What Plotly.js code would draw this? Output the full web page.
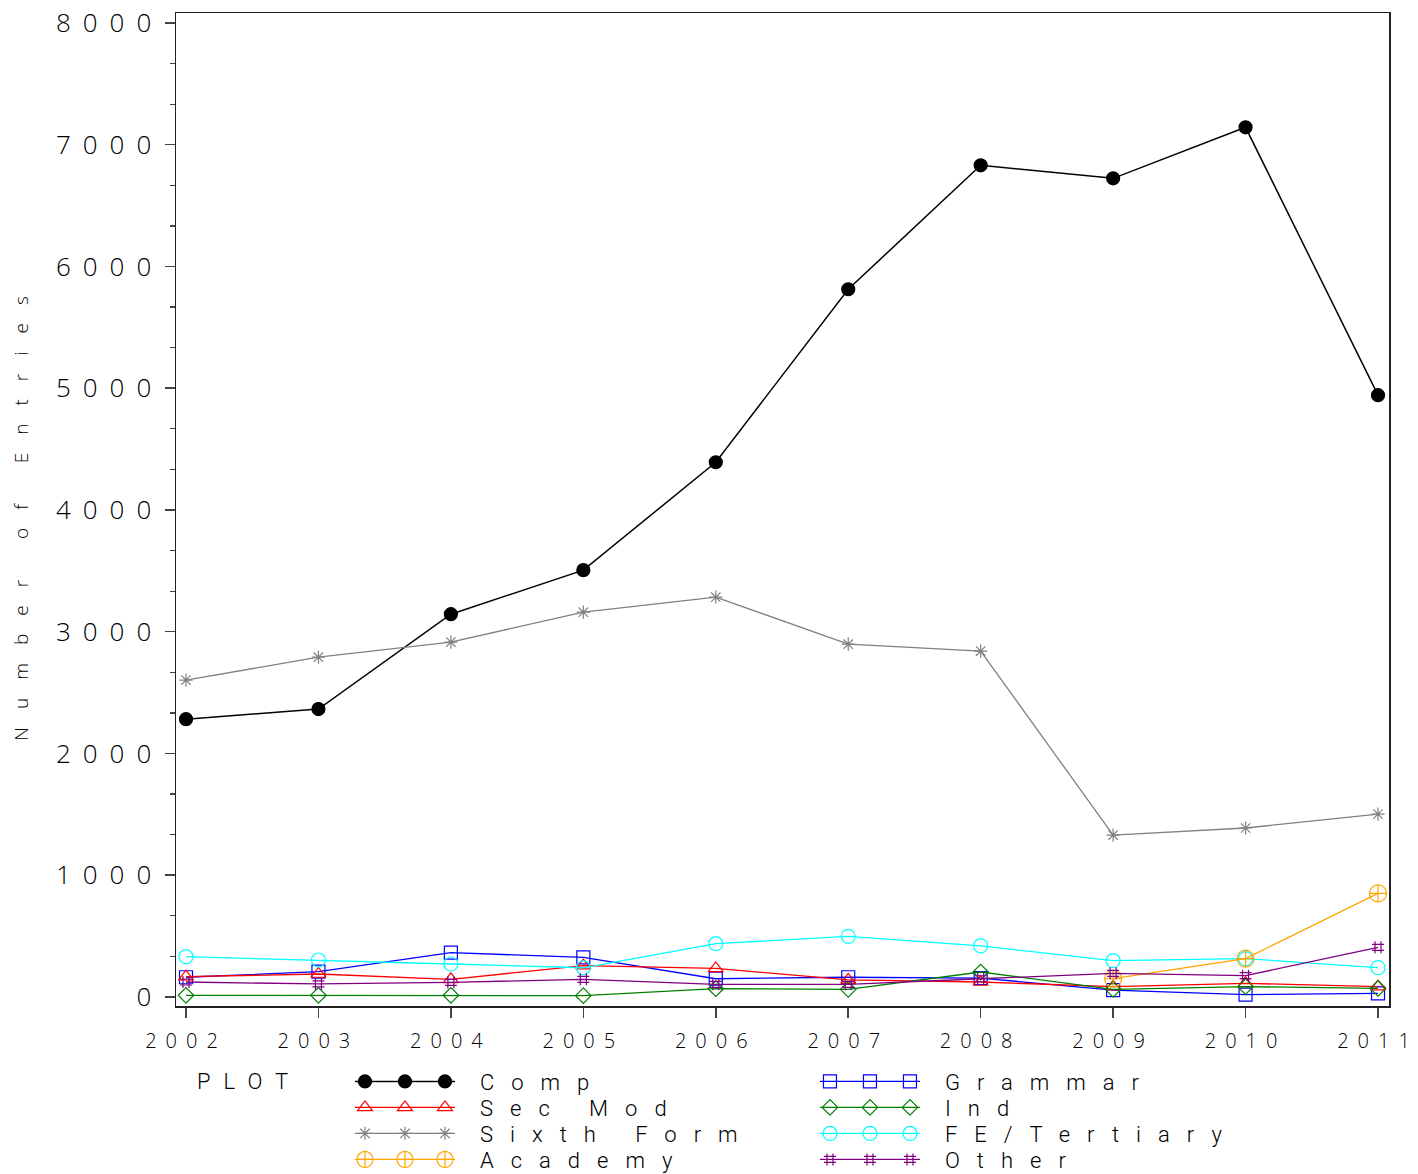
<!DOCTYPE html>
<html>
<head>
<meta charset="utf-8">
<script src="https://cdn.plot.ly/plotly-3.0.1.min.js"></script>
<style>
  html, body { margin: 0; padding: 0; background: #fff; }
  #chart { width: 1418px; height: 1174px; }
  .ytick text { letter-spacing: 12px; }
  .xtick text { letter-spacing: 9px; }
  .ytitle { letter-spacing: 18px; }
  .legendtext { letter-spacing: 17px; }
  .legendtitletext { letter-spacing: 13px; }
</style>
</head>
<body>
<div id="chart"></div>
<script>
// ---- data ----
const years = [2002, 2003, 2004, 2005, 2006, 2007, 2008, 2009, 2010, 2011];
const comp       = [2282, 2365, 3144, 3506, 4392, 5813, 6831, 6724, 7143, 4943];
const grammar    = [162, 208, 364, 326, 150, 162, 155, 57, 19, 30];
const secMod     = [167, 189, 145, 257, 235, 140, 123, 85, 112, 85];
const ind        = [14, 14, 14, 11, 68, 63, 205, 63, 85, 71];
const sixthForm  = [2603, 2791, 2915, 3161, 3284, 2898, 2841, 1330, 1388, 1502];
const feTertiary = [331, 304, 271, 240, 438, 498, 420, 298, 315, 241];
const academy    = [null, null, null, null, null, null, null, 150, 315, 851];
const other      = [123, 107, 120, 145, 104, 104, 150, 194, 175, 408];
const yTickVals  = [0, 1000, 2000, 3000, 4000, 5000, 6000, 7000, 8000];
const yTickText  = ['0', '1000', '2000', '3000', '4000', '5000', '6000', '7000', '8000'];

const FONT = '"Open Sans", "DejaVu Sans", sans-serif';
const LEGEND_FONT = 'Roboto, "Open Sans", sans-serif';

function series(name, y, color, symbol, size, width) {
  return {
    type: 'scatter', mode: 'lines+markers', name: name,
    x: years, y: y,
    line: { color: color, width: width },
    marker: { symbol: symbol, size: size, color: color, line: { color: color, width: 1.2 } },
    connectgaps: false
  };
}

const traces = [
  series('Comp', comp, '#000000', 'circle', 13, 1.5),
  series('Grammar', grammar, '#0000ff', 'square-open', 13, 1.3),
  series('Sec Mod', secMod, '#ff0000', 'triangle-up-open', 13, 1.3),
  series('Ind', ind, '#008000', 'diamond-open', 12, 1.3),
  series('Sixth Form', sixthForm, '#808080', 'asterisk-open', 11, 1.3),
  series('FE/Tertiary', feTertiary, '#00ffff', 'circle-open', 14, 1.3),
  series('Academy', academy, '#ffa500', 'circle-cross-open', 17, 1.3),
  series('Other', other, '#800080', 'hash-open', 12, 1.3)
];

const layout = {
  width: 1418, height: 1174,
  margin: { l: 176, r: 29, t: 13, b: 168, autoexpand: false },
  paper_bgcolor: '#ffffff', plot_bgcolor: '#ffffff',
  font: { family: FONT, color: '#000000', weight: 300 },
  showlegend: true,
  xaxis: {
    range: [2001.9245, 2011.083],
    tickvals: years, ticktext: years.map(String),
    ticks: 'outside', ticklen: 10, tickwidth: 1.5, tickcolor: '#444',
    showgrid: false, zeroline: false,
    showline: true, linecolor: '#222', linewidth: 1.5, mirror: true,
    tickfont: { family: FONT, size: 20, color: '#000', weight: 300 },
    ticklabeloverflow: 'allow',
    ticklabelstandoff: 6
  },
  yaxis: {
    range: [-74, 8082],
    tickvals: yTickVals, ticktext: yTickText,
    ticks: 'outside', ticklen: 10, tickwidth: 1.5, tickcolor: '#444',
    minor: { dtick: 1000 / 3, ticks: 'outside', ticklen: 5, tickwidth: 1.2, tickcolor: '#444', showgrid: false },
    showgrid: false, zeroline: false,
    showline: true, linecolor: '#222', linewidth: 1.5, mirror: true,
    tickfont: { family: FONT, size: 26, color: '#000', weight: 300 },
    ticklabelstandoff: -4,
    title: { text: 'Number of Entries', font: { family: FONT, size: 19, color: '#000', weight: 300 }, standoff: 22 }
  },
  legend: {
    orientation: 'h',
    x: 0.0157, xanchor: 'left',
    y: -0.055, yanchor: 'top',
    entrywidth: 350, entrywidthmode: 'pixels',
    itemwidth: 100,
    font: { family: LEGEND_FONT, size: 22, color: '#000', weight: 300 },
    title: { text: 'PLOT\u00a0\u00a0', side: 'left', font: { family: LEGEND_FONT, size: 22, color: '#000', weight: 300 } },
    bgcolor: 'rgba(0,0,0,0)', borderwidth: 0,
    tracegroupgap: 0
  }
};

function polishLegend() {
  const items = Array.from(document.querySelectorAll('.legend .traces'));
  const parse = (el) => {
    const m = /translate\(\s*([-\d.e]+)[ ,]+([-\d.e]+)\s*\)/.exec(el.getAttribute('transform') || '');
    return m ? [parseFloat(m[1]), parseFloat(m[2])] : [0, 0];
  };
  const ys = Array.from(new Set(items.map(el => parse(el)[1]))).sort((a, b) => a - b);
  const ROW = 26;
  items.forEach(el => {
    const [x, y] = parse(el);
    const row = ys.indexOf(y);
    el.setAttribute('transform', 'translate(' + (x + 4) + ',' + (ys[0] + row * ROW) + ')');
    // shift text a little away from the sample line
    const t = el.querySelector('text.legendtext');
    if (t) t.setAttribute('x', parseFloat(t.getAttribute('x') || 0) + 20);
    // three markers along the sample line, as in the reference
    const pts = el.querySelectorAll('.legendpoints path.scatterpts');
    pts.forEach(p => {
      const [px, py] = parse(p);
      [-40, 40].forEach(dx => {
        const c = p.cloneNode(true);
        c.setAttribute('transform', 'translate(' + (px + dx) + ',' + py + ')');
        p.parentNode.appendChild(c);
      });
    });
  });
}

Plotly.newPlot('chart', traces, layout, { displayModeBar: false, staticPlot: true }).then(polishLegend);
</script>
</body>
</html>
